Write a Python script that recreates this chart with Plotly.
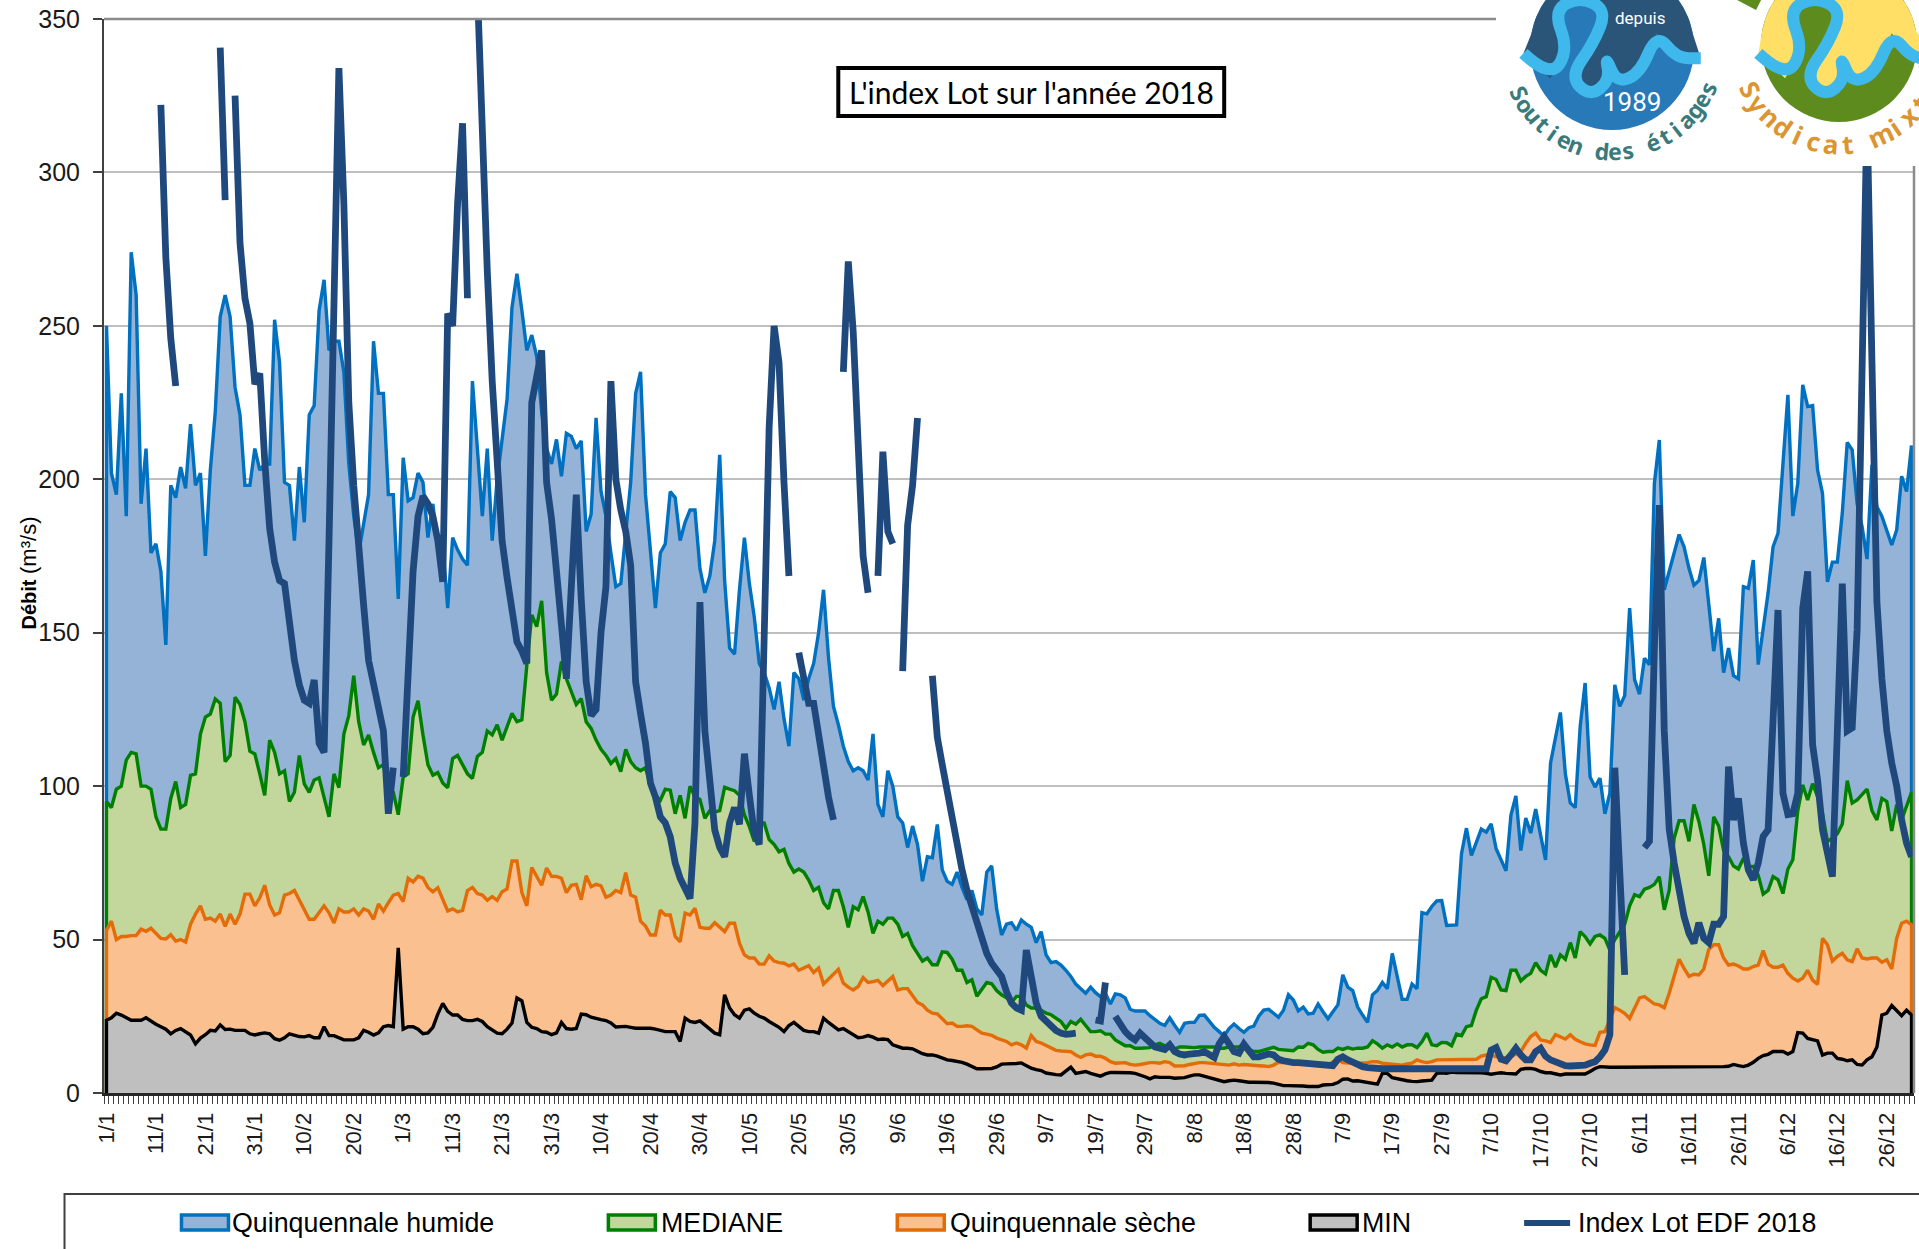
import math
import plotly.graph_objects as go

TITLE = "L'index Lot sur l'année 2018"
TICK_DAYS = [1,11,21,31,41,51,61,71,81,91,101,111,121,131,141,151,161,171,181,191,201,211,221,231,241,251,261,271,281,291,301,311,321,331,341,351,361]
TICK_LABELS = ["1/1","11/1","21/1","31/1","10/2","20/2","1/3","11/3","21/3","31/3","10/4","20/4","30/4","10/5","20/5","30/5","9/6","19/6","29/6","9/7","19/7","29/7","8/8","18/8","28/8","7/9","17/9","27/9","7/10","17/10","27/10","6/11","16/11","26/11","6/12","16/12","26/12"]

HUMIDE = [250,202,195,228,188,274,260,192,210,176,
179,170,146,198,194,204,197,218,198,202,
175,203,222,253,260,253,230,221,198,198,
210,203,205,205,252,238,199,198,180,204,
186,221,224,255,265,242,245,245,235,205,
188,176,185,195,245,228,228,195,195,161,
207,193,194,202,199,181,192,178,179,158,
181,177,174,172,232,210,188,210,180,200,
213,226,256,267,255,242,247,240,222,210,
205,213,201,215,214,210,212.5,183,188.6,220,
196,188,176,165,166,183,199,228,235,195,
177,158,176,179,196,194,180,186,190,190,
171,163,168.5,180,208,167,145,143,164,181,
166,155,140,137,132,125,134,122,113,137,
135,128,135,140,150,164,142,126,120,113,
108,105,106,105,102,117,94,90,105,100,
90,88,80,87,81,69,77,76.7,87.5,72.7,
69,68,72,67,63,66,60,58,72,74,
60,51.5,55,55.5,53,56.4,55,54,49,52.6,
45,42.5,42.8,41.7,40,38,35.5,33.8,32.5,34.5,
32.7,31.4,32.5,29,32.3,32,31,27.3,26.7,26.7,
26.7,25.2,23.8,22.7,22,24.5,22,19.8,22.7,23,
23,25.3,25.4,23.3,21.4,20,18.6,21,22.5,21,
19.8,21.3,21.8,25,27,27.3,26,24.7,27,32,
30.3,26.8,28,25.8,26,29,26.5,24.2,26.5,28.7,
38.5,34.5,33.4,28,25.4,23,32,33.4,36,34,
45.5,38,30.5,30.5,35.5,34,58.8,58.4,60.8,62.6,
62.7,54.6,54.7,54.8,78,86.3,77.4,82,86,85,
87.7,79.6,76,72.4,90.6,96.8,79,89.6,84.7,92.5,
84,76,107.5,116,124,104,94.5,93,119.5,133.6,
103,99.7,102.6,91,97.7,133,126,129.5,158,134.7,
130,141.7,139.6,198.7,212.8,164,170,176,182,178,
171,165.5,167,174.5,160,144,154.7,137,145,136,
135,165,164.5,173.7,139.6,151,163,178,182.4,205,
227.5,188,198.7,230.8,223.7,224,203,195.4,166.6,173,
173,189,212,209.6,192,184.6,174,204.7,191,188,
183.5,178.6,183.5,201,196,211]

MEDIANE = [95,93,99,100,108.5,111,110.5,100,100,99,
90,86,86,96,101.5,93,94,103.5,104,117,
122.5,123.5,128.4,127,108,110,129,126.6,121,111.4,
110.5,104,97,115,111,104,105,95,98,110,
100.7,98,102,102.7,96,90,104,99.5,117,123,
136,121,113.4,116.7,111,106,107,99,98,90.7,
103,104,122.5,127.8,116.7,107,103.6,104.4,101,99.5,
109,110,107,104,102.5,109.7,111,118,116.7,120,
115,119,123.7,121,121.6,139.4,155.8,152,160.4,137,
128,130,140.6,135,131,126.6,
128.5,121,118.8,115,112,110,107.4,109,104.7,112,
108,106,105,106,100,97,95.4,99,98.7,91,
97,89.5,100,96.5,95.7,89.5,92,91.6,92,99.6,
99,98.5,97,90.6,86.8,82,88,88,82.6,81,
78.6,79.4,74.8,72,73,72,69.4,66,67,62,
60,66,66,60.7,54,60.7,59.7,64,59,52,
56,55,57,57,55,51,52,48,45.5,43,
44,41.8,41.8,46,45.8,43.6,40,40,36,36.9,
31.5,34,36,35.6,33.4,32,31,29.5,31.5,31.5,
28.7,27.7,27.7,27,26,25.5,24.4,
23.3,21,23.3,22.4,24,22,20,20,20.3,19.2,
19.2,17.3,16.2,15.4,15.4,14.6,14.6,14.8,14.8,15.7,
16.2,15.4,15,14.3,15,15,14.8,14.8,15,15,
15,15,14.6,14.6,15,15,15,16,14.2,13.5,
13.5,14,14.5,14.9,14.2,14,13.8,13.8,15,14.9,16.2,
15.7,14.2,13.3,13.5,13.5,14.6,14.2,14.8,14.3,14.6,
14.6,15,17,16,14.6,15.7,15,16,15,15.7,
15.7,14.8,16.7,19.5,15.7,15.4,16.5,16.4,15.4,19.2,
18.7,21.6,22,27,30.7,31.4,37.7,37,33.6,33.4,
40,40,36.5,38,39,42.5,
40,38.8,45,41,45,43.6,49,44,52.6,51,
48.6,51,51.5,50.4,46.6,50,52.6,55,61,64.6,
64,66.4,67,68,70.5,59.7,66,83,88.7,88.7,
82,94,88.5,81,70.8,90,87,79,77,74,
73,76.5,73.8,73.8,71,64.8,66,70.5,69.5,65,
73,76,92,100.4,95.5,100.8,96.6,91,82,83,
84.5,87.7,101.8,94.5,95.5,97.4,99,92,89,96,
95,85.4,94,89,93.4,98]

SECHE = [53,56,50,51,51,51.3,51.3,53.4,52.7,53.7,
52,50.4,50.2,51.6,49.5,50,49.2,55,58.3,61,
56.6,57,56,58.3,54.3,58.3,55,58.3,64.8,64.8,
61,63.6,67.7,61.3,58,58.7,64.5,65,66,63,
59.5,56.6,56.6,59,61,58.7,55.4,60,59,59,
60,58,60,59.3,56.6,61.6,59.3,62,64.5,65,
62.4,70,68.8,70.6,70,67,65.6,66.9,63,59.3,
60,59,59.5,66,67,65,64.5,62.8,64,62.8,
65.6,66.5,75.6,75.6,65.3,61,73.5,70.6,67.7,73.3,
70.6,70.6,70,65.3,67.7,68,
63,70.8,67.2,68,67.5,63.8,64.5,66,65.3,71.8,
64.5,63.8,56,54.4,51.5,51.5,59.6,58,58,51,
49.3,58.6,58,60.2,54,53.7,53.7,55.5,54,52.6,
55.3,55.3,48.8,45,44,44,42,42,44.7,43,
42.5,42.3,41.4,42,40,40.7,41.5,39.3,40.7,35.5,
37.2,38.8,40.3,35.8,34.5,33.6,34.7,37.6,36,36.3,
36.7,35,36.5,38,33.6,34,34,31.7,29.5,28.7,
27,26,25.8,24.2,22.6,22.8,21.7,21.7,21.9,21.7,
20.6,19.5,19.2,18.8,17.9,17.4,16.8,15.7,16.3,15.7,
14.6,18.7,16.8,16.3,15.5,14.6,13.9,
13.7,13.7,13.5,12.4,11.6,12.4,12.7,12,12,11.3,
10.2,9.7,9.9,9.9,9.3,9.1,9.3,9.7,9.9,9.9,
9.7,10.2,9.9,8.8,8.8,8.9,9.3,9.7,9.9,9.9,
9.7,9.5,9.5,9.3,9.1,9.5,9.1,9.3,9.1,9.1,
8.9,8.8,8.6,9.1,10,9.9,9.9,10.2,10.2,10.2,
9.9,9.7,9.5,9.1,9.1,10.2,10.8,9.9,9.7,9.7,
9.7,9.7,9.9,10.2,10.2,9.7,9.5,9.5,9.1,9.1,
9.5,9.7,10.8,10.2,9.9,10.2,10.8,10.8,10.8,11,
11,11,11,10.8,11,12,12.4,12.4,11.8,11.8,11.3,
11.8,12.7,13.5,16.2,18.4,19.5,
17.3,17,16.5,19,18.4,17.6,19,17.5,16.7,16,
15.7,15.5,19.8,20,24,27.8,27,26,24.3,28,
31,31.4,30.3,29,28.7,27.8,32.5,38,43.6,40.6,
38,38.7,38.5,40.4,46.8,48.3,48.3,44,41.7,42,
41.4,40.4,40.4,41.2,41.7,46.4,42,41,41,41.7,
39,37.4,36.5,37.4,40,36.8,35.4,50.4,48.3,43,
44.5,45.5,43.4,42.8,47,44,43.7,44,44,42.6,
43.4,40.4,50.4,55.3,56,54.8]

MINIMUM = [23.7,24.5,26,25.4,24.5,23.7,23.7,23.7,24.5,23.3,
22.4,21.6,20.8,19.3,20.4,21,20,18.9,16,17.9,
19,20.4,20.2,22.2,20.7,20.8,20.4,20.4,20.4,19.3,
18.9,19.3,19.6,19.3,17.7,17.2,18,19.3,18.9,18.4,
18.3,18.7,18,18,21.6,18.7,18.7,18,17.3,17.3,
17.3,18,20.4,19.8,18.9,19.6,21.6,22,21.6,47.3,
20.8,21.6,21.6,20.8,19.3,19.6,21.4,25.7,29.2,26.6,
25.4,25.4,24,23.6,23.6,24,23.3,21.6,20.4,19.5,
19.3,20.8,22.8,31,30,23,21.4,21,20,19.8,
19,19.6,23,21,20.8,21,
25.7,25.5,24.7,24.2,23.9,23.6,22.8,21.5,21.5,21.7,
21.4,21.1,21.1,21.1,21.1,20.8,20.4,20,20,20,
16.8,24.4,23.3,23,23.5,22.2,20.6,19.5,19,32,
27.7,25.5,24.4,27,27.4,26,25,24.4,23.3,22.5,
21.4,20,22,23,21.7,20.4,20,20,19.5,24.4,
23,21.7,20.6,21,20,19.3,18,18.2,18.7,18.2,
17.4,17.6,17.4,15.7,15,14.6,14.6,14.4,13.6,12.8,
12.4,12.4,12,11.4,10.8,10.6,10.3,10,9.4,8.7,
7.9,7.9,7.9,8,8.5,9.4,9.5,9.5,9.6,9.8,8.9,
8.1,7.6,7.3,6.5,6.2,6,
5.9,7,8.4,6.4,6.6,7,6.4,5.9,5.5,6.2,6.7,
6.7,6.7,6.6,6.6,6.4,5.9,5.3,4.6,5.3,5.1,
5.1,5.1,4.8,4.8,5,5.5,5.9,5.9,5.5,5.1,
4.6,4.2,3.7,4,4.2,4,3.7,3.5,3.5,3.5,
3.5,3.4,3.2,2.8,2.4,2.4,2.4,2.3,2.3,2.1,
2.1,2.1,2.6,2.6,2.8,3.4,4.5,4.6,3.9,4,
3.7,3.4,3.2,2.9,6.4,6.4,5,4.6,4.2,4,
3.8,3.7,3.9,4,4.2,6.4,6.6,6.4,6.8,6.7,
6.7,6.7,6.7,6.6,6.6,6.4,6.1,6.4,6.6,6.4,6.4,
6.2,7.7,8,8,7.7,
7,6.6,6.6,6.2,5.9,6.2,6.2,6.2,6.2,6.2,
7,8,8.6,8.4,8.4,8.4,8.4,8.6,8.6,8.6,
8.6,8.4,8.5,8.5,8.6,8.6,8.5,8.5,8.5,8.6,
8.6,8.6,8.5,8.5,8.5,8.5,8.6,8.6,8.7,9.3,
8.9,8.6,9.1,10,11.3,12.2,12.6,13.5,13.5,13.5,
12.7,13.5,19.7,19.5,17.8,17.3,17,12.4,13,13,
11.3,11,10.5,10.8,9.3,9.1,10.8,11.8,15,25.4,
26,28.5,27,25.2,27,25.4]

N = None
INDEX_LOT = [N,N,N,N,N,N,N,N,N,N,N,
322,272.4,246,230.4,
N,N,N,N,N,N,N,N,
340.7,291,
N,
325,277,259,250.8,231,234.5,206,184,173,167,166,152,141,133,128,127,134.6,114,111,180,250,334,290,225,198,175,159,141,134,127,118,91,106,
N,
103,135,170,188,194.5,192,188,180,166.6,254,250,290,316,259,
N,
360,310,268,232,208,180,168,159,147,144,140,225,235,242,199,187,170,152,
135,165,195,161,134,123,125,150,165,232,200,190,183,172,134,123.6,114,101,96.5,90,88,83.5,75,70,66,63.4,88,160,118,101,85.7,80,77,88,93,87.6,110.6,97,84.6,81,139,217,250,238,199,168.5,
N,
143.5,134.5,127,127,116,108,96.5,89,
N,
235,271,248,206,175,163,
N,
168.5,209,183,179,
N,
137.5,185,198,220,
N,N,
136,116,107,98.7,88,80,72.7,66,60.7,55,50,45.5,42.3,40,38,33,29.3,27.7,27,46.6,36.9,29.3,25,23.3,21.7,20.4,19.5,19.1,19.3,19.5,
N,N,N,
23.8,23.5,36,
N,
25,22,20,18.4,17.3,19.5,17.8,16.4,15,14.6,14.2,15.7,13.5,12.7,12.4,12.7,12.7,13,13.5,12.7,11.6,16,18.4,16,13.5,13,15.9,13.8,11.8,11.8,12.4,12.7,12.4,11,10.5,10,9.9,9.9,9.7,9.5,9.3,9.3,9.1,8.9,8.9,11,11.8,10.8,9.9,9.1,8.6,8.3,8,7.9,
7.9,7.9,7.9,7.9,7.9,7.9,7.9,7.9,7.9,7.9,7.9,7.9,7.9,7.9,7.9,7.9,7.9,7.9,7.9,7.9,7.9,7.9,
14,14.8,11,10.5,12.4,14.6,12.4,10.8,10.8,13.5,14.6,12,10.8,10,9.3,8.9,8.8,8.8,8.9,9.1,9.7,10.2,11.8,14,19,106,72,38.5,
N,N,N,
80,82,145,191.6,118,86,75,65,57.5,52,48.8,55.5,50.4,49,55,55,57.5,106.4,89,96,81.4,72.7,69.5,75,83.6,85.8,118,157.4,97.7,90.7,91,97.7,158,170,113.5,102,85.8,77,70.5,118,166,118,119,151,238,320,238,160,135,118,107.5,100,89,81.4,77]

# ----- layout constants (page pixels)
W, H = 1919, 1249
L, R, T, B = 103.5, 1914, 19, 1093

def px(x): return (x - L) / (R - L)
def py(y): return 1 - (y - T) / (B - T)

DAYS = list(range(1, 367))

fig = go.Figure()
AREAS = [("Quinquennale humide", HUMIDE, "#0070C0", "#95B3D7"),
         ("MEDIANE", MEDIANE, "#008000", "#C3D69B"),
         ("Quinquennale sèche", SECHE, "#E36C09", "#FAC090"),
         ("MIN", MINIMUM, "#000000", "#BFBFBF")]
for name, vals, col, fill in AREAS:
    fig.add_trace(go.Scatter(x=[DAYS[0]] + DAYS + [DAYS[-1]], y=[0] + vals + [0], name=name, mode="lines",
                             line=dict(color=col, width=3.4), fill="tozeroy", fillcolor=fill,
                             showlegend=False, hoverinfo="skip"))
fig.add_trace(go.Scatter(x=DAYS, y=INDEX_LOT, name="Index Lot EDF 2018", mode="lines",
                         line=dict(color="#1F497D", width=6.8), connectgaps=False, showlegend=False))

shapes, annots = [], []

def rect(x0, y0, x1, y1, fill="rgba(0,0,0,0)", line=None, width=0):
    shapes.append(dict(type="rect", xref="paper", yref="paper", x0=px(x0), x1=px(x1), y0=py(y0), y1=py(y1),
                       fillcolor=fill, line=dict(color=line or "rgba(0,0,0,0)", width=width), layer="above"))

def text(x, y, s, size, color="#000000", fam="Liberation Sans", anchor="left", angle=0, yanchor="middle"):
    annots.append(dict(xref="paper", yref="paper", x=px(x), y=py(y), text=s, showarrow=False, xanchor=anchor,
                       yanchor=yanchor, textangle=angle, font=dict(size=size, color=color, family=fam)))

def line(x0, y0, x1, y1, color, width):
    shapes.append(dict(type="line", xref="paper", yref="paper", x0=px(x0), x1=px(x1), y0=py(y0), y1=py(y1),
                       line=dict(color=color, width=width), layer="above"))

def smooth(pts, close=False):
    P = [(px(a), py(b)) for a, b in pts]
    d = f"M{P[0][0]:.5f},{P[0][1]:.5f}"
    for i in range(1, len(P) - 1):
        mx, my = (P[i][0] + P[i + 1][0]) / 2, (P[i][1] + P[i + 1][1]) / 2
        d += f" Q{P[i][0]:.5f},{P[i][1]:.5f} {mx:.5f},{my:.5f}"
    d += f" L{P[-1][0]:.5f},{P[-1][1]:.5f}"
    return d + (" Z" if close else "")

def path(d, fill=None, color=None, width=0):
    shapes.append(dict(type="path", xref="paper", yref="paper", path=d, fillcolor=fill or "rgba(0,0,0,0)",
                       line=dict(color=color or "rgba(0,0,0,0)", width=width), layer="above"))

# frame pieces
line(L, T, 1496, T, "#8C8C8C", 2.5)
line(R, T, R, B, "#8C8C8C", 2.5)

# white plate that hides what runs under the logos
rect(1496, -5, 1925, 166, fill="#FFFFFF")

# title box
rect(838, 68, 1224, 116, fill="#FFFFFF", line="#000000", width=4)
text(1031, 92, TITLE, 30, fam="Lato", anchor="center")

# y title
annots.append(dict(xref="paper", yref="paper", x=px(27), y=py(573), showarrow=False, textangle=-90,
                   xanchor="center", yanchor="middle",
                   text="<b>Débit</b> <span style='font-size:22px'>(m³/s)</span>",
                   font=dict(size=20, color="#000000", family="Liberation Sans")))

# legend frame and entries
rect(64, 1194, 1935, 1270, fill="#FFFFFF", line="#404040", width=2)
KEY_X = [181, 608, 897, 1310]
TXT_X = [230, 659, 948, 1360]
for (name, vals, col, fill), kx, tx in zip(AREAS, KEY_X, TXT_X):
    rect(kx, 1215, kx + 47, 1230, fill=fill, line=col, width=3.5)
    text(tx, 1223, name, 26.8)
line(1524, 1223, 1570, 1223, "#1F497D", 6)
text(1576, 1223, "Index Lot EDF 2018", 26.8)

# logos
RIVER = [(220,160),(300,235),(355,150),(310,30),(390,-10),(470,30),(430,130),(360,230),(420,290),(480,240),
         (465,165),(500,250),(570,220),(620,100),(680,175),(752,175)]

def logo(cx, cy, r, ox, top, bottom, inner):
    shapes.append(dict(type="circle", xref="paper", yref="paper", x0=px(cx - r), x1=px(cx + r),
                       y0=py(cy + r), y1=py(cy - r), fillcolor=bottom, line=dict(width=0), layer="above"))
    def Z(p): return (ox + p[0] / 3, p[1] / 3)
    riv = [Z(p) for p in RIVER]
    arc = [(cx + r * math.cos(math.radians(a)), cy + r * math.sin(math.radians(a))) for a in range(190, 351, 10)]
    pts = [arc[0]] + arc + [riv[-1]] + riv[::-1][1:] + [arc[0]]
    d = "M" + " L".join(f"{px(a):.5f},{py(b):.5f}" for a, b in pts) + " Z"
    path(d, fill=top)
    loop = [Z(p) for p in [(345,60),(390,30),(440,60),(420,125),(380,180),(350,120),(345,60)]]
    path(smooth(loop, True), fill=inner)
    path(smooth(riv), color="#3FB8EC", width=12)

logo(1612, 48, 82, 1450, "#2B5578", "#2779B8", "#2779B8")
logo(1839, 44, 78, 1685, "#FFDF66", "#5E8B1E", "#5E8B1E")

text(1640, 18, "depuis", 17, color="#FFFFFF", fam="Roboto", anchor="center")
text(1632, 102, "1989", 26, color="#FFFFFF", fam="Roboto", anchor="center")

def arc_text(s, cx, cy, rad, a0, step, size, color):
    for i, ch in enumerate(s):
        if ch == " ":
            continue
        a = a0 - i * step
        x = cx - rad * math.sin(math.radians(a))
        y = cy + rad * math.cos(math.radians(a))
        text(x, y, f"<b>{ch}</b>", size, color=color, fam="Noto Sans", anchor="center", angle=a)

arc_text("Soutien des étiages", 1612, 48, 103, 64, 7.3, 23, "#3B7A7A")
arc_text("Syndicat mixt", 1839, 44, 100, 63, 9.7, 26, "#DC9530")
path("M" + " L".join(f"{px(a):.5f},{py(b):.5f}" for a, b in [(1737,0),(1756,10),(1761,0)]) + " Z", fill="#5E8B1E")

fig.update_layout(
    width=W, height=H, autosize=False, showlegend=False,
    margin=dict(l=L, r=W - R, t=T, b=H - B, pad=0),
    paper_bgcolor="#FFFFFF", plot_bgcolor="#FFFFFF",
    shapes=shapes, annotations=annots,
    xaxis=dict(range=[0.5, 366.5], tickmode="array", tickvals=TICK_DAYS, ticktext=TICK_LABELS, tickangle=-90,
               ticks="outside", ticklen=8, tickcolor="rgba(0,0,0,0)", tickwidth=1,
               tickfont=dict(size=22, color="#1a1a1a", family="Liberation Sans"),
               showgrid=False, zeroline=False, showline=True, linecolor="#262626", linewidth=3,
               automargin=False,
               minor=dict(ticks="outside", ticklen=8, tickwidth=1, tickcolor="#404040", tick0=0.5, dtick=1, showgrid=False)),
    yaxis=dict(range=[0, 350], tick0=0, dtick=50, ticks="outside", ticklen=9, tickwidth=2, tickcolor="#404040",
               tickfont=dict(size=25, color="#1a1a1a", family="Liberation Sans"), ticklabelstandoff=8,
               showgrid=True, gridcolor="#BFBFBF", gridwidth=2, zeroline=False,
               showline=True, linecolor="#404040", linewidth=2, automargin=False),
)
fig.write_html("out.html", config={"displayModeBar": False},
               post_script="document.body.style.margin='0';document.body.style.overflow='hidden';")
